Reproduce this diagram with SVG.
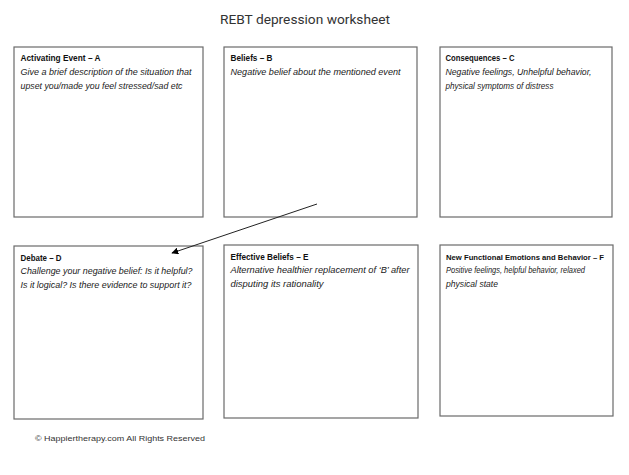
<svg xmlns="http://www.w3.org/2000/svg" width="629" height="475" viewBox="0 0 629 475">
<defs>
<marker id="ah" viewBox="0 0 10 10" refX="9" refY="5" markerWidth="7" markerHeight="7" markerUnits="userSpaceOnUse" orient="auto">
<path d="M0,0 L10,5 L0,10 z" fill="#000"/>
</marker>
<style>
.box{fill:#fff;stroke:#6a6a6a;stroke-width:1.2}
.h{font-family:"Liberation Sans",Arial,sans-serif;font-size:9.2px;font-weight:bold;fill:#111}
.t{font-family:"Liberation Sans",Arial,sans-serif;font-size:9.6px;font-style:italic;fill:#1a1a1a}
.title{font-family:Roboto,"Liberation Sans",sans-serif;font-size:13.5px;fill:#333}
.foot{font-family:"Liberation Sans",Arial,sans-serif;font-size:8px;fill:#333}
</style>
</defs>
<rect width="629" height="475" fill="#fff"/>
<text class="title" x="305" y="24" text-anchor="middle" textLength="170" lengthAdjust="spacingAndGlyphs">REBT depression worksheet</text>

<g id="nodeA">
<rect class="box" x="14" y="47" width="189" height="170"/>
<text class="h" x="20.5" y="60.5" textLength="80" lengthAdjust="spacingAndGlyphs">Activating Event – A</text>
<text class="t" x="20.5" y="75" textLength="171" lengthAdjust="spacingAndGlyphs">Give a brief description of the situation that</text>
<text class="t" x="20.5" y="89" textLength="162" lengthAdjust="spacingAndGlyphs">upset you/made you feel stressed/sad etc</text>
</g>
<g id="nodeB">
<rect class="box" x="224" y="47" width="193" height="170"/>
<text class="h" x="230.5" y="60.5" textLength="42" lengthAdjust="spacingAndGlyphs">Beliefs – B</text>
<text class="t" x="230.5" y="75" textLength="170" lengthAdjust="spacingAndGlyphs">Negative belief about the mentioned event</text>
</g>
<g id="nodeC">
<rect class="box" x="440" y="47" width="172" height="170"/>
<text class="h" x="445.5" y="60.5" textLength="69" lengthAdjust="spacingAndGlyphs">Consequences – C</text>
<text class="t" x="445.5" y="75" textLength="146" lengthAdjust="spacingAndGlyphs">Negative feelings, Unhelpful behavior,</text>
<text class="t" x="445.5" y="89" textLength="108" lengthAdjust="spacingAndGlyphs">physical symptoms of distress</text>
</g>
<g id="nodeD">
<rect class="box" x="14" y="246" width="189" height="173"/>
<text class="h" x="20.5" y="260.5" textLength="41" lengthAdjust="spacingAndGlyphs">Debate – D</text>
<text class="t" x="20.5" y="274" textLength="172" lengthAdjust="spacingAndGlyphs">Challenge your negative belief: Is it helpful?</text>
<text class="t" x="20.5" y="288" textLength="171" lengthAdjust="spacingAndGlyphs">Is it logical? Is there evidence to support it?</text>
</g>
<g id="nodeE">
<rect class="box" x="224" y="245" width="194" height="173"/>
<text class="h" x="230.5" y="259.5" textLength="78" lengthAdjust="spacingAndGlyphs">Effective Beliefs – E</text>
<text class="t" x="230.5" y="273" textLength="179" lengthAdjust="spacingAndGlyphs">Alternative healthier replacement of ‘B’ after</text>
<text class="t" x="230.5" y="287" textLength="93" lengthAdjust="spacingAndGlyphs">disputing its rationality</text>
</g>
<g id="nodeF">
<rect class="box" x="440" y="245" width="173" height="171"/>
<text class="h" x="446" y="259.5" style="font-size:7.9px" textLength="158" lengthAdjust="spacingAndGlyphs">New Functional Emotions and Behavior – F</text>
<text class="t" x="446" y="273" textLength="139" lengthAdjust="spacingAndGlyphs">Positive feelings, helpful behavior, relaxed</text>
<text class="t" x="446" y="287" textLength="52" lengthAdjust="spacingAndGlyphs">physical state</text>
</g>

<g id="connectors">
<line x1="317" y1="204" x2="172" y2="253" stroke="#222" stroke-width="1" marker-end="url(#ah)"/>
</g>

<text class="foot" x="35" y="441" textLength="170" lengthAdjust="spacingAndGlyphs">© Happiertherapy.com All Rights Reserved</text>
</svg>
